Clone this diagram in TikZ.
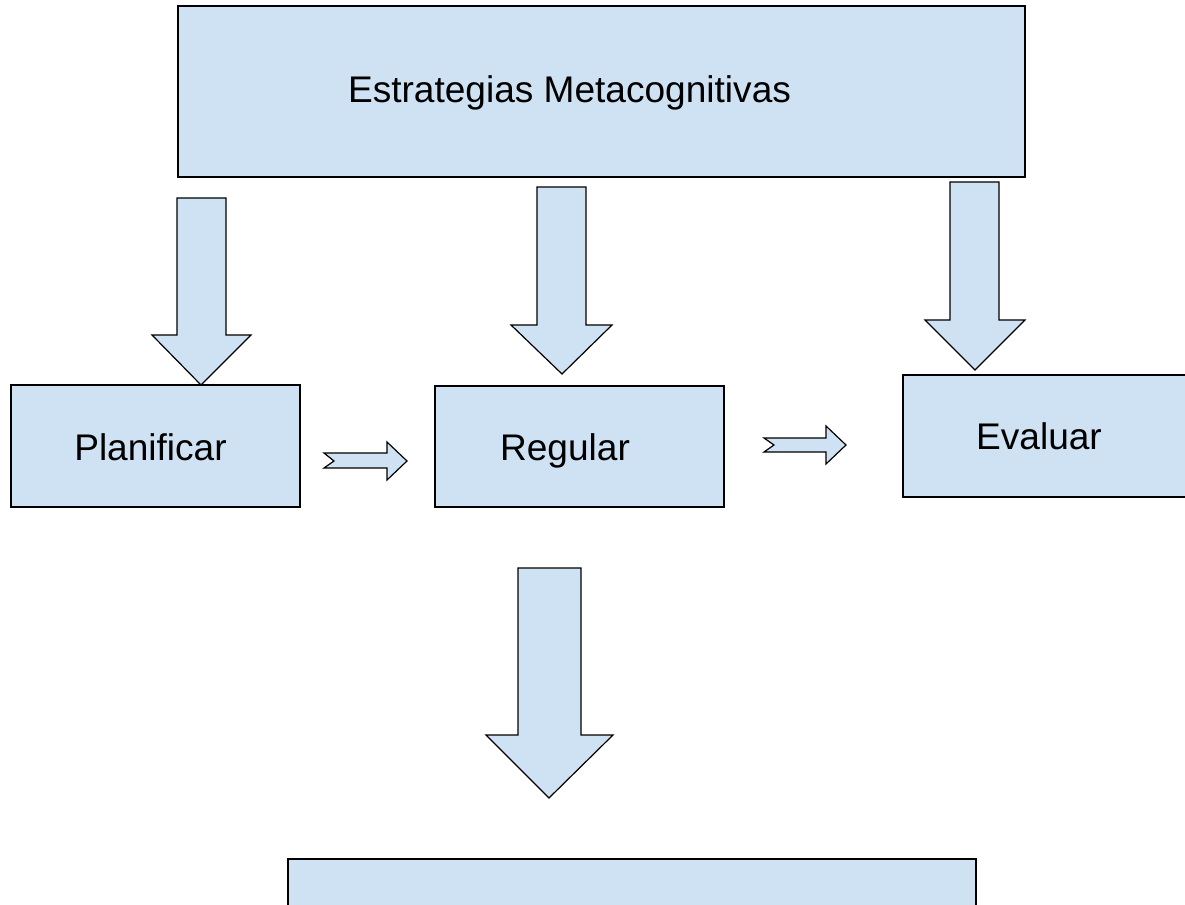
\documentclass[tikz,border=0pt]{standalone}
\usepackage{fontspec}
\setmainfont{Liberation Sans}
\usepackage{xcolor}
\definecolor{lightblue}{HTML}{CFE2F3}

\begin{document}
\begin{tikzpicture}[x=0.75pt,y=0.75pt,yscale=-1,
    box/.style={draw=black, fill=lightblue, line width=0.9pt, inner sep=0pt},
    blockarrow/.style={draw=black, fill=lightblue, line width=0.9pt, line join=miter},
    lbl/.style={anchor=base, inner sep=0pt, font=\fontsize{27.8}{33}\selectfont}]
        %set diagram to 1185 x 905
        \clip (0,0) rectangle (1185,905);

        %Shape: Rectangle [id:estr]
        \node [box, minimum width=635.25pt, minimum height=128.25pt] (estr) at (601.5,91.5) {};
        %Shape: Rectangle [id:plan]
        \node [box, minimum width=216.75pt, minimum height=91.5pt] (plan) at (155.5,446) {};
        %Shape: Rectangle [id:regu]
        \node [box, minimum width=216.75pt, minimum height=90.75pt] (regu) at (579.5,446.5) {};
        %Shape: Rectangle [id:eval]
        \node [box, minimum width=217.5pt, minimum height=91.5pt] (eval) at (1048,436) {};
        %Shape: Rectangle [id:bott]
        \node [box, minimum width=516pt, minimum height=91.5pt] (bott) at (632,920) {};

        %Down Arrow [id:estr-plan]
        \draw [blockarrow] (177,198) -- (226,198) -- (226,335) -- (251,335) -- (201,385) -- (152,335) -- (177,335) -- cycle ;
        %Down Arrow [id:estr-regu]
        \draw [blockarrow] (537,187) -- (586,187) -- (586,325) -- (612,325) -- (562,374) -- (511,325) -- (537,325) -- cycle ;
        %Down Arrow [id:estr-eval]
        \draw [blockarrow] (950,182) -- (999,182) -- (999,320) -- (1025,320) -- (975,370) -- (925,320) -- (950,320) -- cycle ;
        %Down Arrow [id:regu-bott]
        \draw [blockarrow] (518,568) -- (581,568) -- (581,735) -- (613,735) -- (549,798) -- (486,735) -- (518,735) -- cycle ;

        %Right Arrow [id:plan-regu]
        \draw [blockarrow] (324,453) -- (387,453) -- (387,442) -- (407,461) -- (387,480) -- (387,468) -- (324,468) -- (334,461) -- cycle ;
        %Right Arrow [id:regu-eval]
        \draw [blockarrow] (764,438) -- (826,438) -- (826,426) -- (846,445) -- (826,464) -- (826,452) -- (764,452) -- (774,445) -- cycle ;

        % Text Node
        \node [lbl] (estrtxt) at (569.5,103) {Estrategias Metacognitivas};
        % Text Node
        \node [lbl] (plantxt) at (150.5,460) {Planificar};
        % Text Node
        \node [lbl] (regutxt) at (565,460) {Regular};
        % Text Node
        \node [lbl] (evaltxt) at (1039,450) {Evaluar};

\end{tikzpicture}
\end{document}
